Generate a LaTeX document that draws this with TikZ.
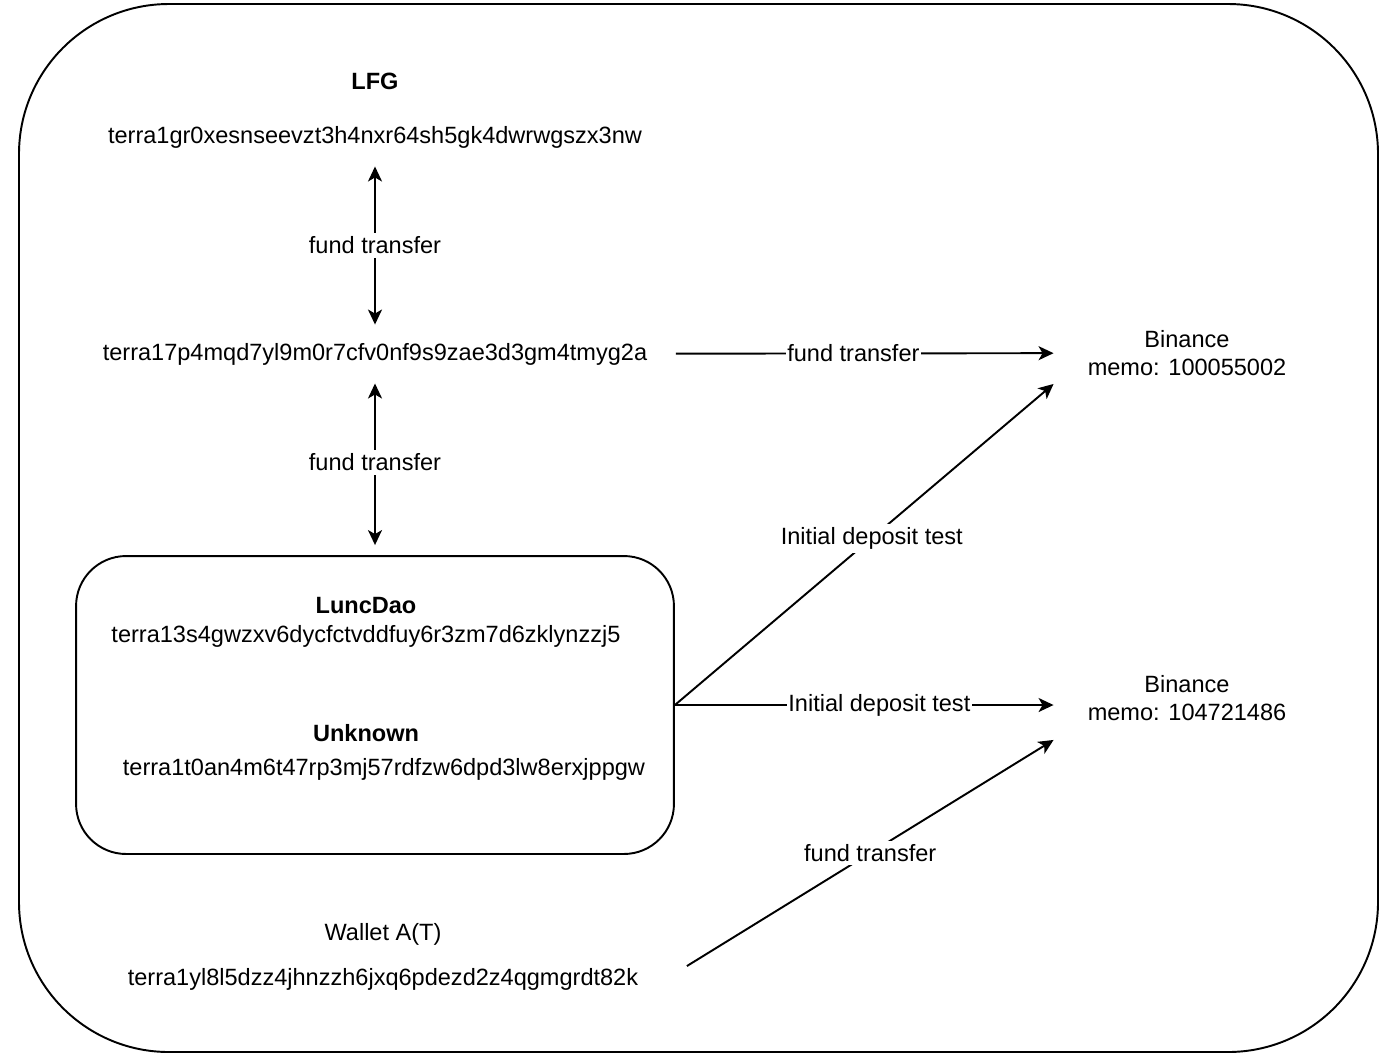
\documentclass[tikz,border=0pt]{standalone}
\usepackage{fontspec}
\setmainfont{Liberation Sans}
\usetikzlibrary{arrows.meta}

\begin{document}
\begin{tikzpicture}[x=0.02cm, y=-0.02cm, font=\fontsize{13.4}{16}\selectfont,
    line width=1.1pt, >={Stealth[length=0.3cm,width=0.28cm,inset=0.08cm]},
    lbl/.style={fill=white, inner sep=2pt},
    addr/.style={minimum width=12cm, minimum height=1.14cm, inner sep=0pt},
    bin/.style={minimum width=5.3cm, minimum height=1.2cm, inner sep=0pt, align=center}]
    \useasboundingbox (0,0) rectangle (1400,1063);
    \draw [rounded corners=3cm] (19,4) rectangle (1378,1052);
    \node (lfg) at (375, 81) {\textbf{LFG}};
    \node[addr] (a) at (375, 137) {terra1gr0xesnseevzt3h4nxr64sh5gk4dwrwgszx3nw};
    \node[addr] (b) at (375, 354) {terra17p4mqd7yl9m0r7cfv0nf9s9zae3d3gm4tmyg2a};
    \node[draw, rounded corners=1cm, minimum width=11.96cm, minimum height=5.96cm] (c) at (375, 705) {};
    \node (dao) at (366, 606) {\textbf{LuncDao}};
    \node (d) at (366, 636) {terra13s4gwzxv6dycfctvddfuy6r3zm7d6zklynzzj5};
    \node (unk) at (366, 733) {\textbf{Unknown}};
    \node (e) at (384, 769) {terra1t0an4m6t47rp3mj57rdfzw6dpd3lw8erxjppgw};
    \node (wal) at (383, 934) {Wallet A(T)};
    \node[addr, minimum width=12.12cm, minimum height=0.48cm] (f) at (383, 979) {terra1yl8l5dzz4jhnzzh6jxq6pdezd2z4qgmgrdt82k};
    \node[bin] (g) at (1187, 353) {Binance\\memo: 100055002};
    \node[bin, minimum height=1.64cm] (h) at (1187, 698) {Binance\\memo: 104721486};
    \draw [<->] (a) to node[lbl] {fund transfer} (b);
    \draw [<->, shorten >=0.2cm] (b.south) to node[lbl, pos=0.46] {fund transfer} (c.north);
    \draw [->] (b) to node[lbl, inner xsep=1pt, pos=0.47] {fund transfer} (g);
    \draw [->] (c.east) to node[lbl, pos=0.52] {Initial deposit test} (g.south west);
    \draw [->] (c.east) to node[lbl, inner xsep=1pt, pos=0.54] {Initial deposit test} (c.east -| h.west);
    \draw [->] (f.north east) to node[lbl] {fund transfer} (h.south west);
\end{tikzpicture}
\end{document}
